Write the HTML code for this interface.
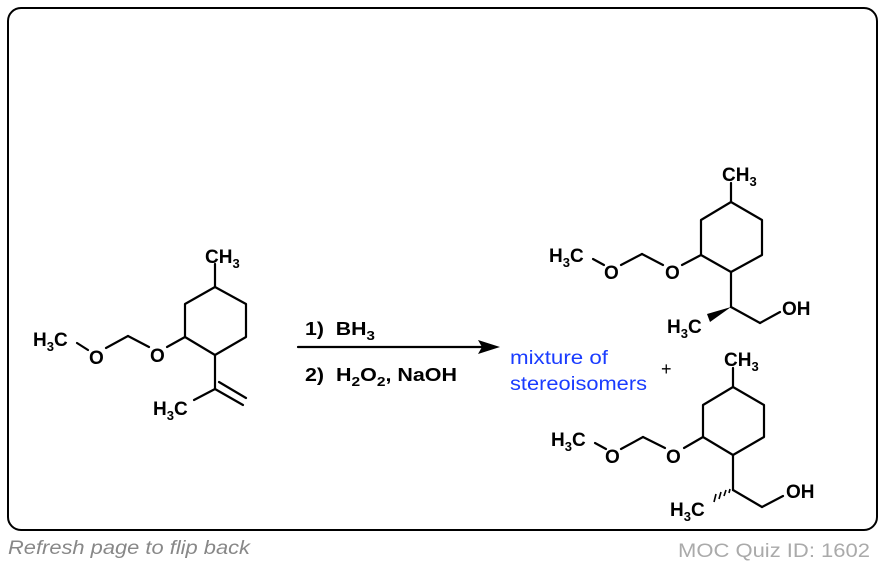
<!DOCTYPE html>
<html><head><style>
body{margin:0;background:#fff;width:884px;height:564px;overflow:hidden}
svg{display:block}
text{font-family:"Liberation Sans",Arial,sans-serif}
</style></head><body>
<svg width="884" height="564" viewBox="0 0 884 564" xmlns="http://www.w3.org/2000/svg">
<rect x="8" y="8" width="869" height="522" rx="13" fill="#fff" stroke="#000" stroke-width="2"/>
<g stroke="#000" stroke-width="2.2" fill="none" stroke-linecap="round" stroke-linejoin="round">
<polyline points="215,264 215,287"/>
<polygon points="215,287 246,304 246,337 215,355 185,337 185,304"/>
<line x1="185" y1="337" x2="167" y2="347"/>
<line x1="149" y1="347" x2="128" y2="336"/>
<line x1="128" y1="336" x2="106" y2="348"/>
<line x1="77" y1="343" x2="88" y2="350"/>
<line x1="215" y1="355" x2="215" y2="389"/>
<line x1="215" y1="389" x2="243" y2="405"/>
<line x1="219" y1="382" x2="246" y2="398"/>
<line x1="215" y1="389" x2="194" y2="400"/>
<line x1="731" y1="183" x2="731" y2="202"/>
<polygon points="731,202 762,220 762,255 731,272 701,255 701,220"/>
<line x1="701" y1="255" x2="682" y2="265"/>
<line x1="663" y1="265" x2="642" y2="254"/>
<line x1="642" y1="254" x2="621" y2="265"/>
<line x1="593" y1="259" x2="604" y2="265"/>
<line x1="731" y1="272" x2="731" y2="307"/>
<line x1="731" y1="307" x2="760" y2="323"/>
<line x1="760" y1="323" x2="780" y2="312"/>
<line x1="733" y1="368" x2="733" y2="387"/>
<polygon points="733,387 764,405 764,437 733,455 703,437 703,405"/>
<line x1="703" y1="437" x2="684" y2="448"/>
<line x1="665" y1="448" x2="643" y2="437"/>
<line x1="643" y1="437" x2="621" y2="449"/>
<line x1="595" y1="443" x2="606" y2="449"/>
<line x1="733" y1="455" x2="733" y2="490"/>
<line x1="733" y1="490" x2="762" y2="507"/>
<line x1="762" y1="507" x2="783" y2="496"/>
<line x1="298" y1="347" x2="485" y2="347"/>
</g>
<polygon points="731,307 707,314 710,322" fill="#000"/>
<g stroke="#000" stroke-width="1.6">
<line x1="729" y1="493" x2="730" y2="489"/>
<line x1="724" y1="496" x2="726" y2="490"/>
<line x1="719" y1="499" x2="721" y2="492"/>
<line x1="714" y1="502" x2="716" y2="494"/>
</g>
<polygon points="500,347 478,340 482,347 478,354" fill="#000"/>
<g font-weight="bold" font-size="19" fill="#000">
<text x="205" y="263">CH<tspan font-size="13" dy="5">3</tspan></text>
<text x="150" y="362">O</text>
<text x="89" y="364">O</text>
<text x="33" y="346">H<tspan font-size="13" dy="5">3</tspan><tspan dy="-5">C</tspan></text>
<text x="153" y="415">H<tspan font-size="13" dy="5">3</tspan><tspan dy="-5">C</tspan></text>

<text x="722" y="181">CH<tspan font-size="13" dy="5">3</tspan></text>
<text x="665" y="279">O</text>
<text x="604" y="279">O</text>
<text x="549" y="262">H<tspan font-size="13" dy="5">3</tspan><tspan dy="-5">C</tspan></text>
<text x="667" y="333">H<tspan font-size="13" dy="5">3</tspan><tspan dy="-5">C</tspan></text>
<text x="782" y="315">OH</text>

<text x="724" y="366">CH<tspan font-size="13" dy="5">3</tspan></text>
<text x="666" y="463">O</text>
<text x="605" y="463">O</text>
<text x="551" y="446">H<tspan font-size="13" dy="5">3</tspan><tspan dy="-5">C</tspan></text>
<text x="670" y="516">H<tspan font-size="13" dy="5">3</tspan><tspan dy="-5">C</tspan></text>
<text x="786" y="498">OH</text>

<text x="305" y="335" font-size="18" textLength="70" lengthAdjust="spacingAndGlyphs">1)&#160; BH<tspan font-size="13" dy="5">3</tspan></text>
<text x="305" y="381" font-size="18" textLength="152" lengthAdjust="spacingAndGlyphs">2)&#160; H<tspan font-size="13" dy="5">2</tspan><tspan dy="-5">O</tspan><tspan font-size="13" dy="5">2</tspan><tspan dy="-5">, NaOH</tspan></text>
</g>
<text x="510" y="364" font-size="19" fill="#1a3cff" textLength="98" lengthAdjust="spacingAndGlyphs">mixture of</text>
<text x="510" y="390" font-size="19" fill="#1a3cff" textLength="137" lengthAdjust="spacingAndGlyphs">stereoisomers</text>
<text x="661" y="375" font-size="18" fill="#000">+</text>
<text x="8" y="554" font-size="19" font-style="italic" fill="#888" textLength="242" lengthAdjust="spacingAndGlyphs">Refresh page to flip back</text>
<text x="678" y="557" font-size="19" fill="#aaa" textLength="192" lengthAdjust="spacingAndGlyphs">MOC Quiz ID: 1602</text>
</svg>
</body></html>
